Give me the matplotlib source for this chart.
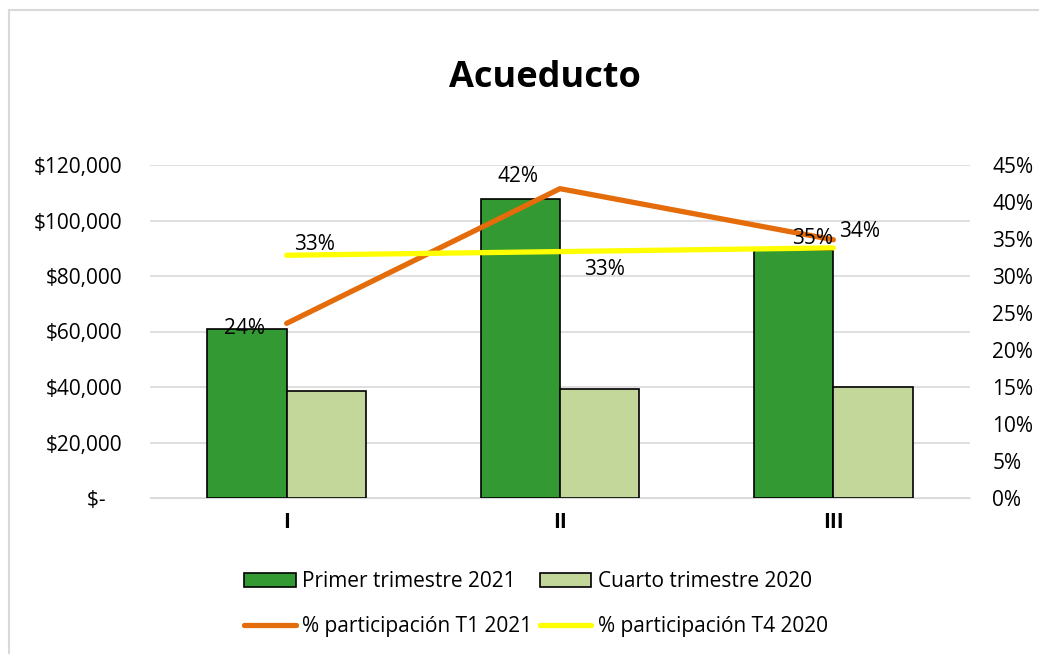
import matplotlib.pyplot as plt
import numpy as np
from matplotlib.lines import Line2D
from matplotlib.ticker import FuncFormatter, PercentFormatter

plt.rcParams['font.family'] = ['Open Sans', 'DejaVu Sans']

categories = ['I', 'II', 'III']
primer_2021 = [61000, 107700, 89400]
cuarto_2020 = [38600, 39300, 39900]
part_t1_2021 = [0.236, 0.418, 0.349]
part_t4_2020 = [0.328, 0.333, 0.338]

GREEN = '#339933'
LIGHT = '#C4D79B'
ORANGE = '#E46C0A'
YELLOW = '#FFFF00'

fig = plt.figure(figsize=(10.39, 6.54), dpi=100)
# outer chart border (left and top visible in the screenshot)
fig.lines.append(Line2D([9 / 1039, 9 / 1039], [0, 1 - 10 / 654], transform=fig.transFigure,
                        color='#D9D9D9', linewidth=1.5))
fig.lines.append(Line2D([9 / 1039, 1], [1 - 10 / 654, 1 - 10 / 654], transform=fig.transFigure,
                        color='#D9D9D9', linewidth=1.5))

ax = fig.add_axes([150 / 1039, 156 / 654, 820 / 1039, 333 / 654])
x = np.arange(len(categories))
w = 0.29

b1 = ax.bar(x - w / 2, primer_2021, w, color=GREEN, edgecolor='black', linewidth=1.2,
            label='Primer trimestre 2021', zorder=3)
b2 = ax.bar(x + w / 2, cuarto_2020, w, color=LIGHT, edgecolor='black', linewidth=1.2,
            label='Cuarto trimestre 2020', zorder=3)

ax.set_xlim(-0.5, 2.5)
ax.set_ylim(0, 120000)
ax.set_yticks(np.arange(0, 120001, 20000))
ax.yaxis.set_major_formatter(FuncFormatter(lambda v, p: '$-   ' if v == 0 else f'${v:,.0f}'))
ax.set_xticks(x)
ax.set_xticklabels(categories, fontweight='bold')
ax.grid(axis='y', color='#D9D9D9', linewidth=1.2, zorder=0)
ax.set_axisbelow(True)
for s in ['top', 'left', 'right']:
    ax.spines[s].set_visible(False)
ax.spines['bottom'].set_color('#D9D9D9')
ax.tick_params(axis='both', length=0, labelsize=15, colors='black')
ax.tick_params(axis='y', pad=20)
ax.tick_params(axis='x', pad=10)

ax2 = ax.twinx()
l1, = ax2.plot(x, part_t1_2021, color=ORANGE, linewidth=3.8, solid_capstyle='round',
               label='% participación T1 2021', zorder=4)
l2, = ax2.plot(x, part_t4_2020, color=YELLOW, linewidth=3.8, solid_capstyle='round',
               label='% participación T4 2020', zorder=4)
ax2.set_ylim(0, 0.45)
ax2.set_yticks(np.arange(0, 0.4501, 0.05))
ax2.yaxis.set_major_formatter(PercentFormatter(1.0, decimals=0))
ax2.tick_params(axis='y', length=0, labelsize=15, pad=16)
for s in ax2.spines.values():
    s.set_visible(False)

t1_offsets = [(-30, -4), (-30, 9), (-15, 1)]
t4_offsets = [(20, 8), (32, -13), (19, 12)]
for xi, v, off in zip(x, part_t1_2021, t1_offsets):
    ax2.annotate(f'{v:.0%}', (xi, v), xytext=off, textcoords='offset points',
                 ha='center', va='center', fontsize=15, zorder=5)
for xi, v, off in zip(x, part_t4_2020, t4_offsets):
    ax2.annotate(f'{v:.0%}', (xi, v), xytext=off, textcoords='offset points',
                 ha='center', va='center', fontsize=15, zorder=5)

fig.text(545 / 1039, 1 - 87 / 654, 'Acueducto', ha='center', va='baseline',
         fontsize=26, fontweight='bold')

fig.legend([b1, l1, b2, l2],
           ['Primer trimestre 2021', '% participación T1 2021',
            'Cuarto trimestre 2020', '% participación T4 2020'],
           ncol=2, loc='center', bbox_to_anchor=(536 / 1039, 1 - 604 / 654), frameon=False,
           fontsize=15, handlelength=2.45, handleheight=0.67, handletextpad=0.3,
           columnspacing=0.4, labelspacing=1.15, borderpad=0)

fig.savefig('out.png', dpi=100)
